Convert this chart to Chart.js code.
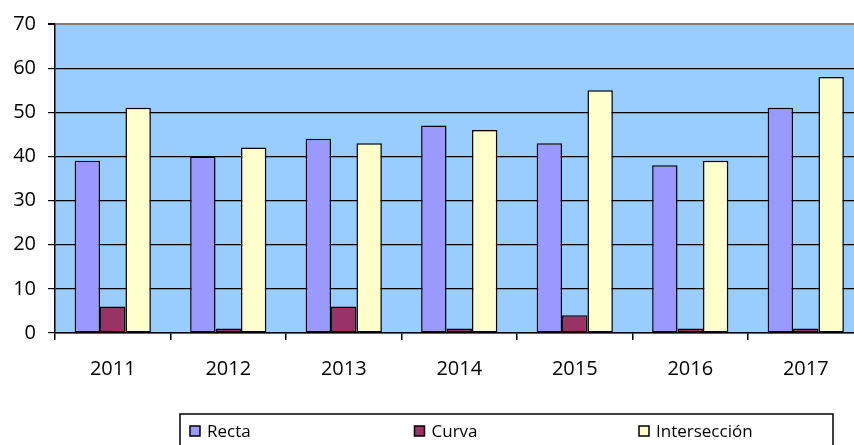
<!DOCTYPE html>
<html>
<head>
<meta charset="utf-8">
<script src="https://cdn.jsdelivr.net/npm/chart.js@4.4.1/dist/chart.umd.min.js"></script>
<style>
  html, body { margin: 0; padding: 0; background: #fff; }
  .frame { width: 854px; height: 445px; overflow: hidden; position: relative; }
  #chart { display: block; }
</style>
</head>
<body>
<div class="frame">
  <canvas id="chart" width="864" height="445"></canvas>
</div>
<script>
const years = ['2011', '2012', '2013', '2014', '2015', '2016', '2017'];
const recta = [39, 40, 44, 47, 43, 38, 51];
const curva = [6, 1, 6, 1, 4, 1, 1];
const interseccion = [51, 42, 43, 46, 55, 39, 58];
const seriesNames = ['Recta', 'Curva', 'Intersección'];
const seriesColors = ['#9999FF', '#993366', '#FFFFCC'];

const FONT = '"Open Sans", "Liberation Sans", sans-serif';

// light blue plot background
const plotBackground = {
  id: 'plotBackground',
  beforeDraw(chart) {
    const { ctx, chartArea: a } = chart;
    ctx.save();
    ctx.fillStyle = '#99CCFF';
    ctx.fillRect(a.left, a.top, a.right - a.left, a.bottom - a.top);
    ctx.restore();
  }
};

// boxed legend row under the axis
const boxLegend = {
  id: 'boxLegend',
  afterDraw(chart) {
    const { ctx } = chart;
    const left = 180, right = 833, top = 414, bottom = 450;
    ctx.save();
    ctx.strokeStyle = '#000';
    ctx.lineWidth = 1.5;
    ctx.strokeRect(left, top, right - left, bottom - top);
    ctx.font = '17px ' + FONT;
    ctx.textBaseline = 'middle';
    ctx.fillStyle = '#000';
    chart.data.datasets.forEach((ds, i) => {
      const x = 190 + i * 224.5;
      ctx.fillStyle = ds.backgroundColor;
      ctx.fillRect(x, 426, 10, 10);
      ctx.lineWidth = 1.5;
      ctx.strokeRect(x, 426, 10, 10);
      ctx.fillStyle = '#000';
      ctx.fillText(ds.label, x + 17, 432);
    });
    ctx.restore();
  }
};

const makeSet = (i, data) => ({
  label: seriesNames[i],
  data: data,
  backgroundColor: seriesColors[i],
  borderColor: '#000',
  borderWidth: 1.5,
  borderSkipped: false,
  categoryPercentage: 0.66,
  barPercentage: 1.0
});

new Chart(document.getElementById('chart').getContext('2d'), {
  type: 'bar',
  data: {
    labels: years,
    datasets: [makeSet(0, recta), makeSet(1, curva), makeSet(2, interseccion)]
  },
  options: {
    responsive: false,
    animation: false,
    layout: { padding: { top: 22, right: 0.5, bottom: 0, left: 0 } },
    plugins: {
      legend: { display: false },
      tooltip: { enabled: false }
    },
    scales: {
      x: {
        offset: true,
        grid: {
          offset: true,
          drawOnChartArea: false,
          drawTicks: true,
          tickLength: 7,
          color: '#000',
          lineWidth: 1.5
        },
        border: { display: true, color: '#000', width: 1.5 },
        ticks: {
          color: '#000',
          font: { family: FONT, size: 20 },
          padding: 17,
          maxRotation: 0
        },
        afterFit(scale) { scale.height = 112; }
      },
      y: {
        min: 0,
        max: 70,
        ticks: {
          stepSize: 10,
          color: '#000',
          font: { family: FONT, size: 20 },
          padding: 12
        },
        grid: {
          color: (c) => (c.tick && c.tick.value === 70 ? '#808080' : '#000'),
          lineWidth: (c) => (c.tick && c.tick.value === 70 ? 2 : 1.2),
          tickColor: '#000',
          tickLength: 7
        },
        border: { display: true, color: '#000', width: 1.5 },
        afterFit(scale) { scale.width = 55; }
      }
    }
  },
  plugins: [plotBackground, boxLegend]
});
</script>
</body>
</html>
